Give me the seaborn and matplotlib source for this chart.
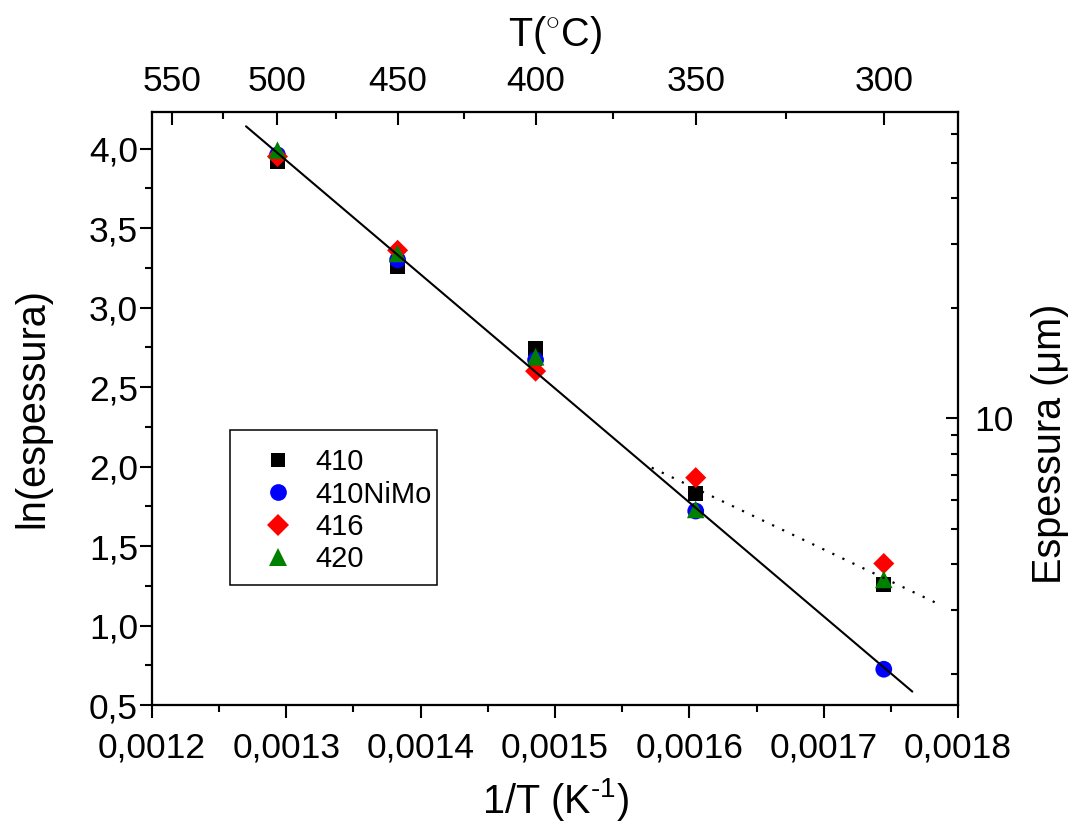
import numpy as np
import pandas as pd
import matplotlib
matplotlib.use("Agg")
import matplotlib.pyplot as plt
import seaborn as sns
from matplotlib.patches import Rectangle
from matplotlib.ticker import FixedLocator, FuncFormatter, MultipleLocator, NullFormatter

# Oxidation temperatures (°C)
temp_c = [500, 450, 400, 350, 300]

# ln(oxide thickness) for each steel
ln_410 = [3.92, 3.26, 2.74, 1.83, 1.26]
ln_410nimo = [3.96, 3.30, 2.67, 1.72, 0.725]
ln_416 = [3.95, 3.36, 2.60, 1.93, 1.39]
ln_420 = [3.99, 3.34, 2.69, 1.73, 1.29]

series_names = ["410", "410NiMo", "416", "420"]
series_colors = ["#000000", "#0000FF", "#FF0000", "#008000"]
series_markers = ["s", "o", "D", "^"]
series_sizes = [115, 145, 115, 160]

# Dotted trend through the low-temperature points
dotted_x = [0.001572, 0.001788]
dotted_y = [1.993, 1.125]

# 1/T span of the solid Arrhenius fit (fit on 410NiMo)
fit_x_span = [0.00127, 0.001766]

# Secondary scales
top_major_c = [550, 500, 450, 400, 350, 300]
top_minor_c = [525, 475, 425, 375, 325]
right_major_um = [10]
right_minor_um = [2, 3, 4, 5, 6, 7, 8, 9, 20, 30, 40, 50, 60]

inv_t = [1.0 / (t + 273.15) for t in temp_c]

rows = []
for name, vals in zip(series_names, [ln_410, ln_410nimo, ln_416, ln_420]):
    for x, y in zip(inv_t, vals):
        rows.append({"invT": x, "ln": y, "liga": name})
df = pd.DataFrame(rows)

sns.set_theme(style="ticks")
plt.rcParams["font.family"] = ["Liberation Sans", "DejaVu Sans"]
plt.rcParams["mathtext.fontset"] = "custom"
plt.rcParams["mathtext.rm"] = "Liberation Sans"
plt.rcParams["mathtext.it"] = "Liberation Sans:italic"
for key in ("text.color", "axes.labelcolor", "xtick.color", "ytick.color",
            "axes.edgecolor"):
    plt.rcParams[key] = "black"

TICK_FS = 25.5
LABEL_FS = 28.5

fig = plt.figure(figsize=(10.71, 8.27), dpi=100)
ax = fig.add_axes([0.1419, 0.1475, 0.7526, 0.7171])

sns.scatterplot(
    data=df, x="invT", y="ln", hue="liga", style="liga", size="liga",
    hue_order=series_names, style_order=series_names, size_order=series_names,
    palette=dict(zip(series_names, series_colors)),
    markers=dict(zip(series_names, series_markers)),
    sizes=dict(zip(series_names, series_sizes)),
    linewidth=0, ax=ax, zorder=3,
)

# Linear Arrhenius fit
coef = np.polyfit(inv_t, ln_410nimo, 1)
fx = np.array(fit_x_span)
sns.lineplot(x=fx, y=np.polyval(coef, fx), color="black", lw=1.5, ax=ax,
             zorder=4, legend=False)
ax.plot(dotted_x, dotted_y, color="black", lw=1.6, ls=(0, (1, 4)), zorder=4)

ax.set_xlim(0.0012, 0.0018)
ax.set_ylim(0.5, 4.23)

lw = 1.5
for s in ax.spines.values():
    s.set_linewidth(lw)
    s.set_color("black")

ax.xaxis.set_major_locator(MultipleLocator(0.0001))
ax.xaxis.set_minor_locator(MultipleLocator(0.00005))
ax.yaxis.set_major_locator(MultipleLocator(0.5))
ax.yaxis.set_minor_locator(MultipleLocator(0.25))
ax.xaxis.set_major_formatter(FuncFormatter(lambda v, p: f"{v:.4f}".replace(".", ",")))
ax.yaxis.set_major_formatter(FuncFormatter(lambda v, p: f"{v:.1f}".replace(".", ",")))
ax.tick_params(which="both", direction="out", width=lw, colors="black",
               labelcolor="black", labelsize=TICK_FS, top=False, right=False)
ax.tick_params(which="major", length=9)
ax.tick_params(which="minor", length=5)
ax.tick_params(axis="x", which="major", pad=10)
ax.tick_params(axis="y", which="major", pad=1)

ax.set_xlabel(r"1/T (K$^{\text{-}1}$)", fontsize=LABEL_FS, color="black")
ax.set_ylabel("ln(espessura)", fontsize=LABEL_FS, color="black")
ax.xaxis.set_label_coords(0.5, -0.16)
ax.yaxis.set_label_coords(-0.149, 0.5)
ax.xaxis.label.set_va("center")
ax.yaxis.label.set_va("center")

# Temperature scale on top
ax_top = ax.twiny()
ax_top.set_xlim(ax.get_xlim())
ax_top.xaxis.set_major_locator(FixedLocator([1.0 / (t + 273.15) for t in top_major_c]))
ax_top.xaxis.set_minor_locator(FixedLocator([1.0 / (t + 273.15) for t in top_minor_c]))
ax_top.set_xticklabels([str(t) for t in top_major_c])
ax_top.xaxis.set_minor_formatter(NullFormatter())
ax_top.tick_params(which="both", direction="in", width=lw, colors="black",
                   labelcolor="black", labelsize=TICK_FS, pad=10)
ax_top.tick_params(which="major", length=9)
ax_top.tick_params(which="minor", length=5)
ax_top.set_xlabel(r"T($^{\circ}$C)", fontsize=LABEL_FS, color="black")
ax_top.xaxis.set_label_coords(0.5, 1.13)
ax_top.xaxis.label.set_va("center")

# Thickness scale on the right (log of µm)
ax_r = ax.twinx()
ax_r.set_ylim(ax.get_ylim())
ax_r.yaxis.set_major_locator(FixedLocator(np.log(right_major_um)))
ax_r.yaxis.set_minor_locator(FixedLocator(np.log(right_minor_um)))
ax_r.set_yticklabels([str(v) for v in right_major_um])
ax_r.yaxis.set_minor_formatter(NullFormatter())
ax_r.tick_params(which="both", direction="in", width=lw, colors="black",
                 labelcolor="black", labelsize=TICK_FS, pad=12)
ax_r.tick_params(which="major", length=9)
ax_r.tick_params(which="minor", length=5)
ax_r.set_ylabel("Espessura (μm)", fontsize=LABEL_FS, color="black")
ax_r.yaxis.set_label_coords(1.114, 0.44)
ax_r.yaxis.label.set_va("center")

for a in (ax_top, ax_r):
    for s in a.spines.values():
        s.set_linewidth(lw)
        s.set_color("black")

# Legend entries without frame, boxed by a separate rectangle
handles, labels = ax.get_legend_handles_labels()
leg = ax.legend(handles, labels, loc="upper left", bbox_to_anchor=(0.109, 0.433),
                frameon=False, fontsize=21, labelspacing=0.15,
                handletextpad=0.0, borderpad=0.0, borderaxespad=0,
                handlelength=2.6)
for t in leg.get_texts():
    t.set_color("black")
ax.add_patch(Rectangle((0.0968, 0.2024), 0.2568, 0.2613, transform=ax.transAxes,
                       fill=False, edgecolor="black", lw=1.1, zorder=5))

fig.savefig("out.png", dpi=100)
